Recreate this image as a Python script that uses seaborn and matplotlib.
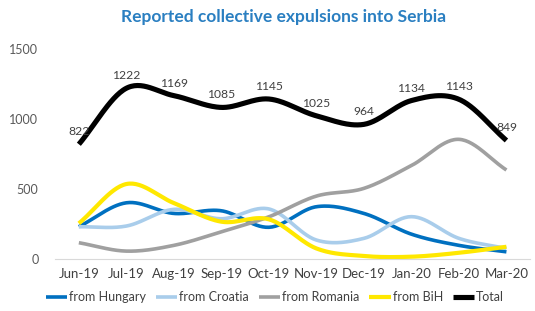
import numpy as np
import pandas as pd
import matplotlib
matplotlib.use("Agg")
import matplotlib.pyplot as plt
import seaborn as sns

months = ['Jun-19', 'Jul-19', 'Aug-19', 'Sep-19', 'Oct-19', 'Nov-19', 'Dec-19', 'Jan-20', 'Feb-20', 'Mar-20']
hungary = [233, 404, 328, 347, 229, 376, 328, 180, 100, 54]
croatia = [233, 238, 357, 290, 360, 138, 150, 305, 150, 78]
romania = [119, 59, 100, 197, 304, 452, 507, 670, 857, 638]
bih = [257, 538, 402, 269, 286, 78, 24, 19, 47, 90]
total = [822, 1222, 1169, 1085, 1145, 1025, 964, 1134, 1143, 849]

series = [
    ('from Hungary', hungary, '#0070C0', 2.6),
    ('from Croatia', croatia, '#A9CDEB', 2.6),
    ('from Romania', romania, '#A0A0A0', 2.6),
    ('from BiH', bih, '#FFE800', 3.0),
    ('Total', total, '#000000', 3.7),
]


def smooth(y, n=30):
    # catmull-rom style smoothing like excel's "smoothed line"
    y = np.asarray(y, dtype=float)
    x = np.arange(len(y), dtype=float)
    m = np.zeros_like(y)
    m[1:-1] = (y[2:] - y[:-2]) / 2
    m[0] = y[1] - y[0]
    m[-1] = y[-1] - y[-2]
    xs, ys = [], []
    for i in range(len(y) - 1):
        t = np.linspace(0, 1, n, endpoint=(i == len(y) - 2))
        h00 = 2 * t**3 - 3 * t**2 + 1
        h10 = t**3 - 2 * t**2 + t
        h01 = -2 * t**3 + 3 * t**2
        h11 = t**3 - t**2
        xs.append(x[i] + t)
        ys.append(h00 * y[i] + h10 * m[i] + h01 * y[i + 1] + h11 * m[i + 1])
    return np.concatenate(xs), np.concatenate(ys)


sns.set_style("white")
plt.rcParams['font.family'] = ['Lato', 'DejaVu Sans']

fig = plt.figure(figsize=(5.35, 3.11), dpi=100)
ax = fig.add_axes([0.103, 0.166, 0.888, 0.6755])

for name, vals, color, lw in series:
    sx, sy = smooth(vals)
    df = pd.DataFrame({'x': sx, 'y': sy})
    sns.lineplot(data=df, x='x', y='y', ax=ax, color=color, linewidth=lw,
                 label=name, solid_capstyle='butt', clip_on=False)

for i, v in enumerate(total):
    ax.annotate(str(v), (i, v), xytext=(0, 9), textcoords='offset points',
                ha='center', va='center', fontsize=8.7, color='#404040')

ax.set_xlim(-0.5, len(months) - 0.5)
ax.set_ylim(0, 1500)
ax.set_yticks([0, 500, 1000, 1500])
ax.set_xticks(range(len(months)))
ax.set_xticklabels(months)
ax.set_xticks(np.arange(-0.5, len(months), 1), minor=True)
ax.tick_params(axis='x', which='major', length=0, pad=6, labelsize=9.5, labelcolor='#404040')
ax.tick_params(axis='x', which='minor', length=4, color='#D9D9D9', width=0.8)
ax.tick_params(axis='y', length=0, pad=12, labelsize=9, labelcolor='#595959')
ax.set_xlabel('')
ax.set_ylabel('')
for s in ['top', 'right', 'left']:
    ax.spines[s].set_visible(False)
ax.spines['bottom'].set_color('#D9D9D9')

handles, labels = ax.get_legend_handles_labels()
ax.legend_.remove()
fig.legend(handles, labels, loc='center', bbox_to_anchor=(0.514, 0.045), ncol=5,
           frameon=False, fontsize=9, handlelength=1.7, handletextpad=0.15,
           columnspacing=0.8, labelcolor='#404040')

fig.text(0.53, 0.945, 'Reported collective expulsions into Serbia', ha='center', va='center',
         fontsize=12.5, fontweight='bold', color='#2A7FC1')

fig.savefig('out.png', dpi=100)
